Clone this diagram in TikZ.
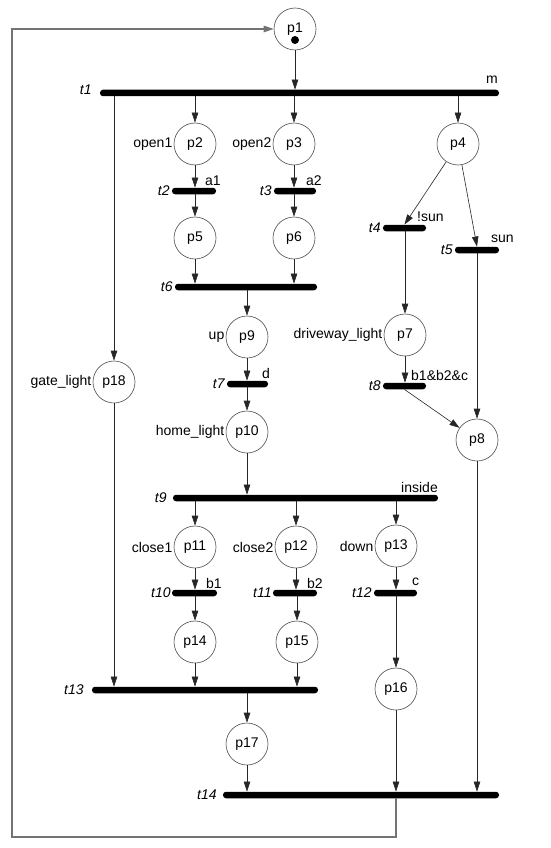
\documentclass[tikz,border=0pt]{standalone}
\usepackage{fontspec}
\setmainfont{Liberation Sans}
\usetikzlibrary{arrows.meta,calc}

\begin{document}
\begin{tikzpicture}[
    x=1pt, y=-1pt,
    font=\fontsize{14}{16}\selectfont,
    >={Triangle[length=10pt,width=6.5pt]},
    place/.style={circle, draw=black!70, line width=0.6pt, minimum size=42pt, inner sep=0pt},
    bar/.style={rectangle, fill=black, rounded corners=3pt, minimum height=6.5pt, inner sep=0pt},
    tname/.style={font=\fontsize{14}{16}\selectfont\itshape, inner sep=2pt},
    guard/.style={inner sep=0pt},
    every label/.style={inner sep=1.2pt},
    arc/.style={->, draw=black!85, line width=0.6pt},
    back/.style={->, draw=black!55, line width=1.1pt},
    token/.style={circle, fill=black, minimum size=8pt, inner sep=0pt}
]
\useasboundingbox (0,0) rectangle (550,848);
% places
\node[place] (p1)  at (295,29)  {p1};
\node[token] (tok) at (295,40)  {};
\node[place, label=left:open1] (p2) at (195,144) {p2};
\node[place, label=left:open2] (p3) at (294,144) {p3};
\node[place] (p4)  at (458,144) {p4};
\node[place] (p5)  at (195,238) {p5};
\node[place] (p6)  at (294,238) {p6};
\node[place, label=left:driveway\_light] (p7) at (405,335) {p7};
\node[place] (p8)  at (477,440) {p8};
\node[place, label=left:up] (p9) at (247,337) {p9};
\node[place, label=left:home\_light] (p10) at (247,432) {p10};
\node[place, label=left:close1] (p11) at (195,547) {p11};
\node[place, label=left:close2] (p12) at (296,547) {p12};
\node[place, label=left:down] (p13) at (396,546) {p13};
\node[place] (p14) at (195,642) {p14};
\node[place] (p15) at (297,642) {p15};
\node[place] (p16) at (396,689) {p16};
\node[place] (p17) at (247,744) {p17};
\node[place, label=left:gate\_light] (p18) at (114,382) {p18};
% transitions
\node[bar, minimum width=399pt, label={[tname, xshift=-6pt, yshift=3pt]left:t1}] (t1) at (299.5,93) {};
\node[bar, minimum width=44pt,  label={[tname]left:t2}]  (t2)  at (194,191)   {};
\node[bar, minimum width=42pt,  label={[tname]left:t3}]  (t3)  at (295,191)   {};
\node[bar, minimum width=43pt,  label={[tname]left:t4}]  (t4)  at (404.5,228) {};
\node[bar, minimum width=44pt,  label={[tname]left:t5}]  (t5)  at (477,250)   {};
\node[bar, minimum width=142pt, label={[tname]left:t6}]  (t6)  at (246,287)   {};
\node[bar, minimum width=41pt,  label={[tname]left:t7}]  (t7)  at (247.5,384) {};
\node[bar, minimum width=43pt,  label={[tname]left:t8}]  (t8)  at (404.5,386) {};
\node[bar, minimum width=265pt, label={[tname, xshift=-4pt]left:t9}]  (t9)  at (305.5,498) {};
\node[bar, minimum width=45pt,  label={[tname, xshift=1pt]left:t10}] (t10) at (194.5,593) {};
\node[bar, minimum width=44pt,  label={[tname, xshift=1pt]left:t11}] (t11) at (295,593)   {};
\node[bar, minimum width=43pt,  label={[tname]left:t12}] (t12) at (395.5,593) {};
\node[bar, minimum width=226pt, label={[tname, xshift=-6pt]left:t13}] (t13) at (205,690) {};
\node[bar, minimum width=276pt, label={[tname, xshift=-4pt]left:t14}] (t14) at (361,795) {};
% guards
\node[guard, anchor=east] (gm)  at (498,80)  {m};
\node[guard, anchor=west] (ga1) at (205,181) {a1};
\node[guard, anchor=west] (ga2) at (306,181) {a2};
\node[guard, anchor=west] (gns) at (417,217) {!sun};
\node[guard, anchor=west] (gs)  at (491,239) {sun};
\node[guard, anchor=west] (gd)  at (262,373) {d};
\node[guard, anchor=west] (gb)  at (411,375) {b1\&b2\&c};
\node[guard, anchor=east] (gin) at (438,487) {inside};
\node[guard, anchor=west] (gb1) at (206,583) {b1};
\node[guard, anchor=west] (gb2) at (307,583) {b2};
\node[guard, anchor=west] (gc)  at (412,582) {c};
% arcs
\draw[arc] (p1) -- (p1 |- t1.north);
\foreach \p in {p2,p3,p4,p18}
  \draw[arc] (t1.south -| \p) -- (\p);
\draw[arc] (p2) -- (p2 |- t2.north);
\draw[arc] (t2.south -| p5) -- (p5);
\draw[arc] (p3) -- (p3 |- t3.north);
\draw[arc] (t3.south -| p6) -- (p6);
\draw[arc] (p5) -- (p5 |- t6.north);
\draw[arc] (p6) -- (p6 |- t6.north);
\draw[arc] (t6.south -| p9) -- (p9);
\draw[arc] (p9) -- (p9 |- t7.north);
\draw[arc] (t7.south -| p10) -- (p10);
\draw[arc] (p4) -- (t4.north);
\draw[arc] (p4) -- (t5.north);
\draw[arc] (t4.south -| p7) -- (p7);
\draw[arc] (p7) -- (p7 |- t8.north);
\draw[arc] (t8.south) -- (p8);
\draw[arc] (t5.south) -- (p8);
\draw[arc] (p10) -- (p10 |- t9.north);
\foreach \p in {p11,p12,p13}
  \draw[arc] (t9.south -| \p) -- (\p);
\draw[arc] (p11) -- (p11 |- t10.north);
\draw[arc] (t10.south -| p14) -- (p14);
\draw[arc] (p12) -- (p12 |- t11.north);
\draw[arc] (t11.south -| p15) -- (p15);
\draw[arc] (p13) -- (p13 |- t12.north);
\draw[arc] (t12.south -| p16) -- (p16);
\foreach \p in {p18,p14,p15}
  \draw[arc] (\p) -- (\p |- t13.north);
\draw[arc] (t13.south -| p17) -- (p17);
\foreach \p in {p17,p16,p8}
  \draw[arc] (\p) -- (\p |- t14.north);
% back to the start
\coordinate (fb) at (12,837);
\draw[back] (t14.south -| p16) |- (fb) |- (p1);
\end{tikzpicture}
\end{document}
